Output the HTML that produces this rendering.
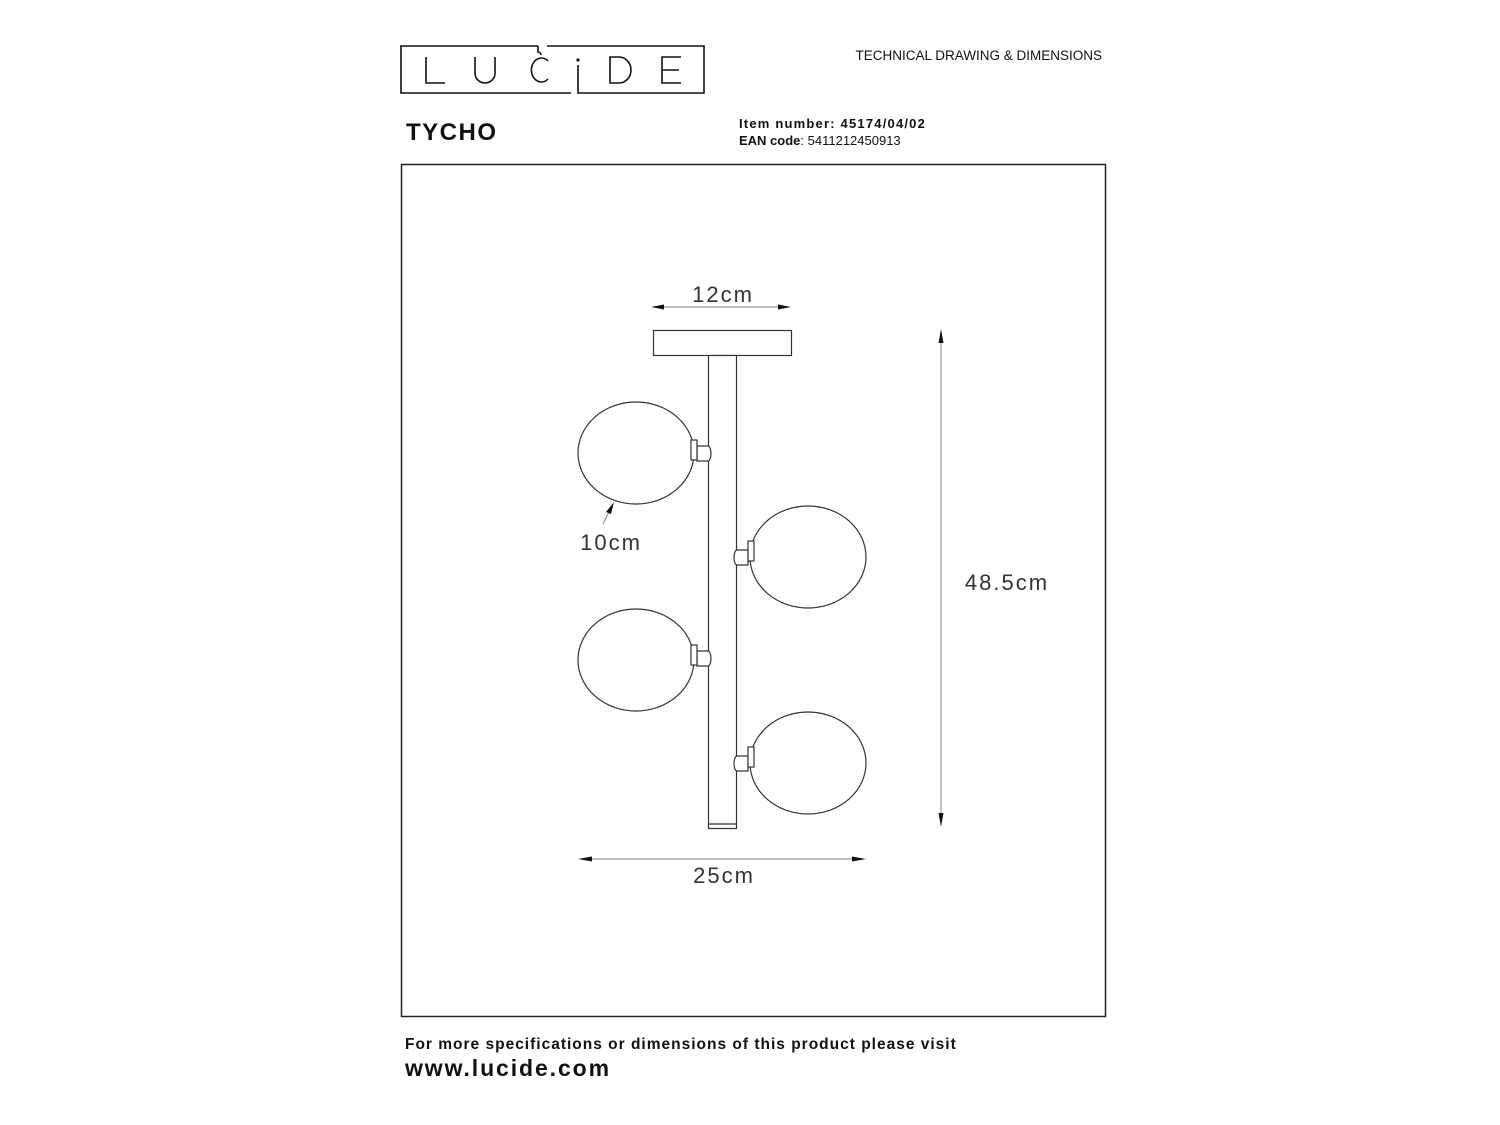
<!DOCTYPE html>
<html><head><meta charset="utf-8"><style>
body{margin:0;background:#fff;width:1500px;height:1125px;overflow:hidden}
svg{display:block}
</style></head><body>
<svg width="1500" height="1125" viewBox="0 0 1500 1125" xmlns="http://www.w3.org/2000/svg" font-family="Liberation Sans, sans-serif">
<!-- logo -->
<g fill="none" stroke="#111" stroke-width="1.6">
<path d="M538,46 H401 V93 H571"/>
<path d="M538,46 V52 A3,3 0 0 1 541,55"/>
<path d="M547,46 H704 V93 H578 V65"/>
<path d="M426,57 V83 H445"/>
<path d="M475,57 V73 A10,10 0 0 0 495,73 V57"/>
<path d="M548,61 A10,12 0 1 0 548,79"/>
<path d="M610,57 V83 H619 A12,13 0 0 0 619,57 Z"/>
<path d="M681,57 H662 V83 H681 M662,70 H679"/>
</g>
<circle cx="578" cy="60" r="1.6" fill="#111"/>
<text x="1102" y="60" font-size="13.5" text-anchor="end" fill="#111">TECHNICAL DRAWING &amp; DIMENSIONS</text>
<text x="406" y="140" font-size="24" font-weight="bold" fill="#111" letter-spacing="1.5">TYCHO</text>
<text x="739" y="128" font-size="13" font-weight="bold" fill="#111" letter-spacing="1.2">Item number: 45174/04/02</text>
<text x="739" y="145" font-size="13" fill="#111"><tspan font-weight="bold">EAN code</tspan>: 5411212450913</text>
<rect x="401.5" y="164.5" width="704" height="852" fill="none" stroke="#222" stroke-width="1.5"/>
<!-- lamp -->
<g fill="#fff" stroke="#333" stroke-width="1.2">
<rect x="653.5" y="330.5" width="138" height="25"/>
<rect x="708.5" y="355.5" width="28" height="473"/>
<line x1="708.5" y1="824" x2="736.5" y2="824"/>
<ellipse cx="636" cy="453" rx="58" ry="51"/>
<ellipse cx="808" cy="557" rx="58" ry="51"/>
<ellipse cx="636" cy="660" rx="58" ry="51"/>
<ellipse cx="808" cy="763" rx="58" ry="51"/>
<path d="M697,446 H708 A3,7.5 0 0 1 708,461 H697 Z"/>
<rect x="691" y="440" width="6" height="20"/>
<path d="M697,651 H708 A3,7.5 0 0 1 708,666 H697 Z"/>
<rect x="691" y="645" width="6" height="20"/>
<path d="M748,550 H737 A3,7.5 0 0 0 737,565 H748 Z"/>
<rect x="748" y="541" width="6" height="20"/>
<path d="M748,756 H737 A3,7.5 0 0 0 737,771 H748 Z"/>
<rect x="748" y="747" width="6" height="20"/>
</g>
<!-- dimensions -->
<g stroke="#999" stroke-width="1.2">
<line x1="660" y1="307" x2="782" y2="307"/>
<line x1="941" y1="340" x2="941" y2="816"/>
<line x1="588" y1="859" x2="856" y2="859"/>
<line x1="603" y1="524" x2="610" y2="510"/>
</g>
<g fill="#111">
<polygon points="651,307 664,304.5 664,309.5"/>
<polygon points="791,307 778,304.5 778,309.5"/>
<polygon points="941,329 938.5,343 943.5,343"/>
<polygon points="941,827 938.5,813 943.5,813"/>
<polygon points="578,859 592,856.5 592,861.5"/>
<polygon points="866,859 852,856.5 852,861.5"/>
<polygon points="614,502 606,512 611,514"/>
</g>
<g font-size="22" fill="#333" letter-spacing="2">
<text x="723" y="302" text-anchor="middle">12cm</text>
<text x="1007" y="590" text-anchor="middle">48.5cm</text>
<text x="724" y="883" text-anchor="middle">25cm</text>
<text x="611" y="550" text-anchor="middle">10cm</text>
</g>
<text x="405" y="1049" font-size="15.5" font-weight="bold" fill="#111" letter-spacing="1">For more specifications or dimensions of this product please visit</text>
<text x="405" y="1076" font-size="23" font-weight="bold" fill="#111" letter-spacing="1.9">www.lucide.com</text>
</svg>
</body></html>
